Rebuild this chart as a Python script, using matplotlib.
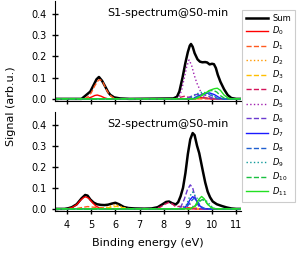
import matplotlib
matplotlib.use("Agg")
import matplotlib.pyplot as plt

# energy range of the plots
emin, emax = 3.5, 11.2

# ---- S1-spectrum@S0-min : (energy eV, signal) pairs ----
s1_sum = [(4.6, 0), (4.75, 0.014), (4.96, 0.034), (5.1, 0.065), (5.22, 0.092), (5.32, 0.103),
          (5.45, 0.085), (5.58, 0.058), (5.7, 0.032), (5.79, 0.019), (5.95, 0.007), (6.2, 0.002),
          (6.6, 0), (8.4, 0.002), (8.55, 0.01), (8.65, 0.035), (8.78, 0.1), (8.9, 0.17),
          (9.0, 0.22), (9.08, 0.25), (9.13, 0.258), (9.2, 0.245), (9.28, 0.215), (9.4, 0.186),
          (9.5, 0.175), (9.6, 0.172), (9.72, 0.173), (9.8, 0.171), (9.9, 0.162), (10.0, 0.165),
          (10.08, 0.163), (10.16, 0.145), (10.24, 0.113), (10.35, 0.08), (10.5, 0.045),
          (10.65, 0.018), (10.8, 0.004), (11.0, 0)]
s1_d0 = [(4.8, 0), (5.0, 0.008), (5.15, 0.016), (5.25, 0.018), (5.4, 0.013), (5.55, 0.005),
         (5.7, 0), (9.3, 0), (9.55, 0.006), (9.75, 0.004), (10.0, 0)]
s1_d1 = [(4.7, 0), (4.85, 0.008), (5.0, 0.028), (5.15, 0.062), (5.3, 0.088), (5.38, 0.09),
         (5.5, 0.075), (5.62, 0.045), (5.75, 0.02), (5.9, 0.006), (6.1, 0)]
s1_d2 = [(9.2, 0), (9.5, 0.005), (9.8, 0.006), (10.1, 0)]
s1_d3 = [(9.3, 0), (9.6, 0.006), (9.9, 0.004), (10.2, 0)]
s1_d4 = [(8.5, 0), (8.7, 0.008), (8.85, 0.012), (9.0, 0.008), (9.2, 0.003), (9.6, 0.006),
         (9.8, 0.004), (10.0, 0)]
s1_d5 = [(8.5, 0), (8.65, 0.01), (8.75, 0.045), (8.85, 0.097), (8.95, 0.15), (9.05, 0.183),
         (9.15, 0.16), (9.26, 0.113), (9.37, 0.075), (9.47, 0.05), (9.55, 0.028), (9.65, 0.01),
         (9.8, 0.002), (10.0, 0)]
s1_d6 = [(8.9, 0), (9.1, 0.01), (9.3, 0.02), (9.5, 0.022), (9.7, 0.018), (9.9, 0.01), (10.1, 0)]
s1_d7 = [(9.2, 0), (9.45, 0.015), (9.7, 0.025), (9.9, 0.028), (10.1, 0.02), (10.3, 0.006),
         (10.45, 0)]
s1_d8 = [(9.2, 0), (9.4, 0.012), (9.6, 0.022), (9.8, 0.024), (10.0, 0.015), (10.2, 0.004),
         (10.35, 0)]
s1_d9 = [(9.0, 0), (9.2, 0.01), (9.4, 0.025), (9.6, 0.032), (9.8, 0.028), (10.0, 0.018),
         (10.2, 0.006), (10.4, 0)]
s1_d10 = [(9.3, 0), (9.5, 0.012), (9.7, 0.028), (9.9, 0.038), (10.05, 0.04), (10.2, 0.032),
          (10.35, 0.015), (10.5, 0.004), (10.65, 0)]
s1_d11 = [(9.3, 0), (9.5, 0.01), (9.7, 0.025), (9.9, 0.04), (10.1, 0.048), (10.22, 0.05),
          (10.35, 0.04), (10.5, 0.018), (10.65, 0.005), (10.8, 0)]

# ---- S2-spectrum@S0-min ----
s2_sum = [(3.9, 0), (4.05, 0.003), (4.2, 0.008), (4.4, 0.022), (4.6, 0.05), (4.75, 0.066),
          (4.85, 0.063), (4.96, 0.045), (5.1, 0.03), (5.24, 0.022), (5.4, 0.019), (5.55, 0.018),
          (5.7, 0.02), (5.85, 0.025), (6.0, 0.029), (6.15, 0.022), (6.35, 0.009), (6.55, 0.004),
          (6.8, 0.002), (7.2, 0.001), (7.5, 0.002), (7.75, 0.008), (7.95, 0.022), (8.1, 0.033),
          (8.22, 0.035), (8.35, 0.027), (8.5, 0.021), (8.6, 0.032), (8.7, 0.06), (8.8, 0.1),
          (8.9, 0.17), (9.0, 0.26), (9.1, 0.33), (9.2, 0.36), (9.28, 0.35), (9.38, 0.3),
          (9.47, 0.265), (9.55, 0.22), (9.62, 0.18), (9.72, 0.125), (9.82, 0.082), (9.92, 0.055),
          (10.03, 0.035), (10.2, 0.022), (10.4, 0.014), (10.6, 0.007), (10.8, 0.002), (11.0, 0)]
s2_d0 = [(4.0, 0), (4.2, 0.006), (4.4, 0.02), (4.55, 0.04), (4.7, 0.055), (4.78, 0.057),
         (4.9, 0.05), (5.05, 0.03), (5.2, 0.013), (5.35, 0.004), (5.5, 0), (8.8, 0), (9.0, 0.005),
         (9.2, 0.004), (9.4, 0)]
s2_d1 = [(4.3, 0), (4.6, 0.006), (4.85, 0.011), (5.1, 0.008), (5.4, 0.006), (5.7, 0.003), (6.0, 0)]
s2_d2 = [(5.4, 0), (5.7, 0.01), (5.9, 0.018), (6.0, 0.02), (6.15, 0.015), (6.35, 0.006), (6.6, 0),
         (8.9, 0), (9.2, 0.006), (9.4, 0)]
s2_d3 = [(5.5, 0), (5.8, 0.008), (6.05, 0.012), (6.3, 0.006), (6.6, 0), (9.0, 0), (9.25, 0.005),
         (9.5, 0)]
s2_d4 = [(7.6, 0), (7.85, 0.008), (8.05, 0.022), (8.2, 0.03), (8.35, 0.024), (8.5, 0.01),
         (8.65, 0.012), (8.8, 0.008), (9.0, 0)]
s2_d5 = [(8.7, 0), (8.85, 0.012), (9.0, 0.025), (9.1, 0.022), (9.25, 0.008), (9.4, 0)]
s2_d6 = [(8.6, 0), (8.72, 0.012), (8.85, 0.045), (8.98, 0.09), (9.1, 0.114), (9.2, 0.1),
         (9.3, 0.055), (9.4, 0.022), (9.5, 0.006), (9.6, 0)]
s2_d7 = [(8.8, 0), (8.95, 0.015), (9.08, 0.042), (9.2, 0.058), (9.3, 0.05), (9.42, 0.025),
         (9.55, 0.008), (9.7, 0)]
s2_d8 = [(8.8, 0), (8.98, 0.012), (9.12, 0.035), (9.25, 0.05), (9.35, 0.045), (9.48, 0.022),
         (9.6, 0.007), (9.75, 0)]
s2_d9 = [(8.8, 0), (8.95, 0.02), (9.08, 0.06), (9.2, 0.08), (9.32, 0.06), (9.45, 0.04),
         (9.6, 0.042), (9.75, 0.04), (9.88, 0.025), (10.0, 0.01), (10.15, 0)]
s2_d10 = [(9.1, 0), (9.3, 0.012), (9.45, 0.032), (9.6, 0.045), (9.72, 0.038), (9.85, 0.018),
          (10.0, 0.005), (10.15, 0)]
s2_d11 = [(9.1, 0), (9.3, 0.015), (9.45, 0.045), (9.57, 0.059), (9.68, 0.048), (9.8, 0.025),
          (9.95, 0.008), (10.1, 0)]

labels = ["Sum"] + [r"$D_{%d}$" % i for i in range(12)]
colors = ["black", "#ff0000", "#ff5a1f", "#ff9900", "#ffbf00", "#d4145a", "#a020b0",
          "#6a3ad0", "#1a1aff", "#1f5fd0", "#109a9a", "#19c040", "#22e022"]
styles = ["-", "-", "--", ":", "--", "--", ":", "--", "-", "--", ":", "--", "-"]
widths = [1.8] + [1.0] * 12

panels = [
    ("S1-spectrum@S0-min", [s1_sum, s1_d0, s1_d1, s1_d2, s1_d3, s1_d4, s1_d5, s1_d6,
                            s1_d7, s1_d8, s1_d9, s1_d10, s1_d11]),
    ("S2-spectrum@S0-min", [s2_sum, s2_d0, s2_d1, s2_d2, s2_d3, s2_d4, s2_d5, s2_d6,
                            s2_d7, s2_d8, s2_d9, s2_d10, s2_d11]),
]

fig = plt.figure(figsize=(3.02, 2.58), dpi=100)
ax_top = fig.add_axes([0.182, 0.6085, 0.616, 0.3876])
ax_bot = fig.add_axes([0.182, 0.1822, 0.616, 0.3837])

for ax, (title, curves) in zip([ax_top, ax_bot], panels):
    for pts, lab, col, ls, lw in zip(curves, labels, colors, styles, widths):
        xs = [emin] + [p[0] for p in pts] + [emax]
        ys = [0] + [p[1] for p in pts] + [0]
        ax.plot(xs, ys, ls, color=col, lw=lw, label=lab)
    ax.set_xlim(emin, emax)
    ax.set_ylim(-0.01, 0.46)
    ax.set_yticks([0.0, 0.1, 0.2, 0.3, 0.4])
    ax.set_xticks(range(4, 12))
    ax.spines["top"].set_visible(False)
    ax.spines["right"].set_visible(False)
    ax.tick_params(direction="inout", length=5, width=1, labelsize=7)
    ax.text(0.605, 0.88, title, transform=ax.transAxes, ha="center", va="center", fontsize=8)

ax_top.tick_params(labelbottom=False)
ax_bot.tick_params(axis="x", pad=4)
ax_bot.set_xlabel("Binding energy (eV)", fontsize=8, labelpad=6)
fig.text(0.035, 0.59, "Signal (arb.u.)", rotation=90, ha="center", va="center", fontsize=8)

handles, labs = ax_top.get_legend_handles_labels()
leg = fig.legend(handles, labs, loc="upper left", bbox_to_anchor=(0.801, 0.961),
                 borderaxespad=0, fontsize=6, handlelength=2.7, handletextpad=0.5,
                 labelspacing=0.25, borderpad=0.45,
                 fancybox=False, framealpha=1, edgecolor="#cccccc")
leg.get_frame().set_linewidth(0.8)

fig.savefig("out.png", dpi=100)
